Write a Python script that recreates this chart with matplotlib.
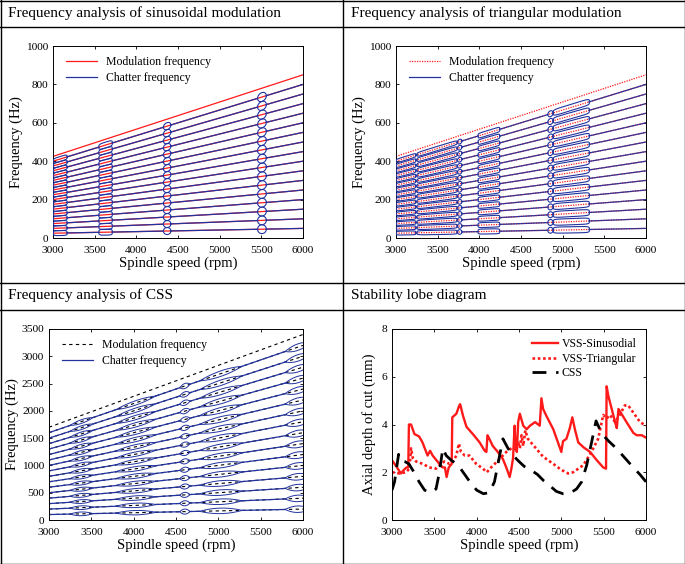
import numpy as np
import matplotlib
matplotlib.use('Agg')
import matplotlib.pyplot as plt
from matplotlib.lines import Line2D

plt.rcParams['font.family'] = ['Liberation Serif', 'DejaVu Serif']

# ---------------- data ----------------
speed_range = [3000, 6000]
harmonics = list(range(1, 17))
mod_order = 17
vss_step_hz = [25, 50]      # harmonic spacing at 3000 / 6000 rpm (VSS panels)
css_step_hz = [100, 200]    # harmonic spacing at 3000 / 6000 rpm (CSS panel)

sin_clusters = [[3005, 3170], [3550, 3712], [4325, 4415], [5455, 5560]]
sin_cluster_exp = [4, 4, 2, 2]
tri_clusters = [[3005, 3238], [3252, 3735], [3738, 3792], [3985, 4245],
                [4822, 4885], [4888, 5320]]
tri_cluster_exp = [6, 6, 2, 6, 2, 6]
css_lenses = [[3250, 3520], [3790, 4260], [4545, 4665], [4780, 5280], [5790, 6090]]

sin_rpm = [3000, 3050, 3105, 3140, 3170, 3192, 3200, 3225, 3265, 3320, 3360, 3420,
           3450, 3480, 3560, 3600, 3625, 3645, 3670, 3705, 3712, 3760, 3795, 3805,
           3840, 3880, 3955, 4035, 4095, 4115, 4128, 4150, 4190, 4250, 4310, 4350,
           4390, 4410, 4430, 4448, 4460, 4475, 4490, 4510, 4550, 4590, 4630, 4690,
           4745, 4765, 4785, 4825, 4905, 4960, 5000, 5020, 5060, 5100, 5130, 5160,
           5200, 5260, 5340, 5420, 5495, 5528, 5535, 5555, 5595, 5635, 5655, 5675,
           5710, 5770, 5850, 5890, 5950, 6000]
sin_depth = [2.5, 2.25, 1.95, 2.1, 2.2, 2.2, 4.0, 4.0, 3.6, 3.5, 3.25, 2.7,
             2.9, 2.7, 2.35, 2.2, 2.2, 1.8, 2.2, 2.35, 4.3, 4.45, 4.8, 4.85,
             4.35, 3.9, 3.6, 3.25, 2.9, 2.85, 3.55, 3.4, 3.1, 2.85, 2.55, 2.2,
             1.8, 2.15, 2.6, 3.95, 3.0, 2.85, 4.1, 4.45, 3.95, 3.8, 3.95, 4.1,
             3.95, 5.1, 4.65, 4.35, 3.8, 3.25, 2.85, 3.3, 3.4, 3.85, 4.3, 3.8,
             3.25, 3.05, 2.85, 2.5, 2.2, 2.15, 5.6, 5.2, 4.65, 4.1, 3.85, 4.65,
             4.45, 4.1, 3.65, 3.55, 3.55, 3.45]

tri_rpm = [3000, 3090, 3165, 3205, 3225, 3245, 3285, 3365, 3440, 3520, 3580, 3620,
           3680, 3720, 3760, 3790, 3815, 3860, 3915, 3995, 4075, 4120, 4170, 4270,
           4350, 4430, 4460, 4490, 4510, 4530, 4550, 4575, 4605, 4665, 4785, 4905,
           5000, 5080, 5140, 5260, 5355, 5435, 5495, 5535, 5575, 5635, 5690, 5750,
           5790, 5850, 5930, 6000]
tri_depth = [2.0, 1.95, 2.0, 2.15, 3.0, 2.6, 2.45, 2.35, 2.2, 2.15, 2.35, 2.45,
             2.35, 2.45, 2.7, 3.2, 2.85, 2.7, 2.7, 2.35, 2.15, 2.0, 2.2, 2.55,
             2.85, 3.05, 2.9, 3.3, 3.0, 3.55, 3.1, 3.75, 3.4, 3.15, 2.65, 2.35,
             2.1, 1.95, 2.0, 2.3, 2.85, 3.4, 4.4, 4.25, 4.4, 4.1, 4.4, 4.8,
             4.8, 4.5, 4.1, 3.95]

css_rpm = [3000, 3030, 3078, 3095, 3150, 3200, 3260, 3320, 3385, 3460, 3520, 3560,
           3600, 3640, 3700, 3760, 3800, 3850, 3920, 4000, 4080, 4150, 4210, 4260,
           4310, 4370, 4430, 4500, 4560, 4640, 4720, 4790, 4860, 4940, 5020, 5100,
           5180, 5240, 5300, 5360, 5410, 5480, 5560, 5650, 5750, 5850, 5930, 6000]
css_depth = [1.25, 1.6, 2.75, 2.5, 2.45, 2.35, 2.0, 1.6, 1.25, 1.15, 1.3, 2.0,
             3.0, 2.7, 2.5, 2.35, 2.2, 1.95, 1.6, 1.25, 1.1, 1.15, 1.6, 2.5,
             3.4, 3.0, 2.7, 2.45, 2.25, 2.1, 1.9, 1.65, 1.45, 1.2, 1.1, 1.12,
             1.3, 1.6, 2.3, 3.3, 4.15, 3.6, 3.3, 3.0, 2.6, 2.2, 1.9, 1.6]

# ---------------- helpers ----------------
BLUE = '#22339e'
RED = '#ff1a1a'
W, H = 685, 564


def step_at(x, step):
    x = np.asarray(x, dtype=float)
    return step[0] + (x - speed_range[0]) * (step[1] - step[0]) / (speed_range[1] - speed_range[0])


def gaps(intervals):
    out, s = [], speed_range[0]
    for a, b in sorted(intervals):
        if a > s:
            out.append([s, a])
        s = max(s, b)
    if s < speed_range[1]:
        out.append([s, speed_range[1]])
    return out


def loop(ax, a, b, k, step, frac, n, color, lw):
    t = np.linspace(0, 2 * np.pi, 120)
    c, w = (a + b) / 2, (b - a) / 2
    cx, sy = np.cos(t), np.sin(t)
    x = c + w * np.sign(cx) * np.abs(cx) ** (2.0 / n)
    h = frac * step_at(c, step)
    y = k * step_at(x, step) + h * np.sign(sy) * np.abs(sy) ** (2.0 / n)
    ax.plot(x, y, color=color, lw=lw, zorder=3)


def lens(ax, a, b, k, step, frac, color, lw):
    x = np.linspace(a, b, 60)
    c, w = (a + b) / 2, (b - a) / 2
    h = frac * step_at(c, step) * (1 - ((x - c) / w) ** 2)
    base = k * step_at(x, step)
    ax.plot(x, base + h, color=color, lw=lw, zorder=3)
    ax.plot(x, base - h, color=color, lw=lw, zorder=3)


def style(ax, ylim, yticks):
    ax.set_xlim(speed_range)
    ax.set_ylim(ylim)
    ax.set_xticks(np.arange(3000, 6001, 500))
    ax.set_yticks(yticks)
    ax.tick_params(direction='in', length=2.5, width=0.6, labelsize=8.2,
                   top=True, right=True)
    ax.tick_params(axis='x', pad=5.5)
    ax.tick_params(axis='y', pad=3.5)
    for s in ax.spines.values():
        s.set_linewidth(0.7)
    ax.set_xlabel('Spindle speed (rpm)', fontsize=10.5, labelpad=1)


fig = plt.figure(figsize=(W / 100, H / 100), dpi=100)


def box(l, r, t, b):
    return [l / W, 1 - b / H, (r - l) / W, (b - t) / H]


xs = np.array(speed_range, dtype=float)
leg_kw = dict(loc='upper left', frameon=False, fontsize=8.5, handlelength=2.6,
              borderaxespad=0.3, labelspacing=0.3, bbox_to_anchor=(0.02, 0.99))

# ---------------- panel 1: sinusoidal ----------------
ax1 = fig.add_axes(box(53, 303, 46, 238))
for k in harmonics:
    ax1.plot(xs, k * step_at(xs, vss_step_hz), color=RED, lw=0.9, zorder=1)
    for g0, g1 in gaps(sin_clusters):
        gx = np.array([g0, g1])
        ax1.plot(gx, k * step_at(gx, vss_step_hz), color=BLUE, lw=0.9, zorder=2)
    for (a, b), n in zip(sin_clusters, sin_cluster_exp):
        loop(ax1, a, b, k, vss_step_hz, 0.5, n, BLUE, 0.8)
ax1.plot(xs, mod_order * step_at(xs, vss_step_hz), color=RED, lw=0.9, zorder=2)
style(ax1, [0, 1000], np.arange(0, 1001, 200))
ax1.set_ylabel('Frequency (Hz)', fontsize=10.5, labelpad=2)
ax1.legend([Line2D([], [], color=RED, lw=0.9), Line2D([], [], color=BLUE, lw=0.9)],
           ['Modulation frequency', 'Chatter frequency'], **leg_kw)

# ---------------- panel 2: triangular ----------------
ax2 = fig.add_axes(box(396, 646, 46, 238))
for k in harmonics:
    ax2.plot(xs, k * step_at(xs, vss_step_hz), color=RED, lw=0.9, ls=(0, (1, 1)), zorder=1)
    for g0, g1 in gaps(tri_clusters):
        gx = np.array([g0, g1])
        ax2.plot(gx, k * step_at(gx, vss_step_hz), color=BLUE, lw=0.9, zorder=2)
    for (a, b), n in zip(tri_clusters, tri_cluster_exp):
        loop(ax2, a, b, k, vss_step_hz, 0.38, n, BLUE, 0.8)
    for g0, g1 in gaps(tri_clusters):
        gx = np.array([g0, g1])
        ax2.plot(gx, k * step_at(gx, vss_step_hz), color=RED, lw=0.6,
                 ls=(0, (1, 3)), alpha=0.6, zorder=2.5)
ax2.plot(xs, mod_order * step_at(xs, vss_step_hz), color=RED, lw=0.9, ls=(0, (1, 1)), zorder=2)
style(ax2, [0, 1000], np.arange(0, 1001, 200))
ax2.set_ylabel('Frequency (Hz)', fontsize=10.5, labelpad=2)
ax2.legend([Line2D([], [], color=RED, lw=0.9, ls=(0, (1, 1))), Line2D([], [], color=BLUE, lw=0.9)],
           ['Modulation frequency', 'Chatter frequency'], **leg_kw)

# ---------------- panel 3: CSS ----------------
ax3 = fig.add_axes(box(49, 303, 329, 520))
for k in harmonics:
    ax3.plot(xs, k * step_at(xs, css_step_hz), color='black', lw=0.8,
             ls=(0, (3, 3)), zorder=1)
    for g0, g1 in gaps(css_lenses):
        gx = np.array([g0, g1])
        ax3.plot(gx, k * step_at(gx, css_step_hz), color=BLUE, lw=0.9, zorder=2)
    for a, b in css_lenses:
        lens(ax3, a, b, k, css_step_hz, 0.3, BLUE, 0.7)
ax3.plot(xs, mod_order * step_at(xs, css_step_hz), color='black', lw=0.8,
         ls=(0, (3, 3)), zorder=2)
style(ax3, [0, 3500], np.arange(0, 3501, 500))
ax3.set_ylabel('Frequency (Hz)', fontsize=10.5, labelpad=2)
ax3.legend([Line2D([], [], color='black', lw=0.8, ls=(0, (3, 3))), Line2D([], [], color=BLUE, lw=0.9)],
           ['Modulation frequency', 'Chatter frequency'], **leg_kw)

# ---------------- panel 4: stability lobes ----------------
ax4 = fig.add_axes(box(392, 646, 329, 520))
l1, = ax4.plot(sin_rpm, sin_depth, color=RED, lw=1.7)
l2, = ax4.plot(tri_rpm, tri_depth, color=RED, lw=1.9, ls=(0, (1, 1)))
l3, = ax4.plot(css_rpm, css_depth, color='black', lw=2.0, ls=(0, (5, 3.5)))
style(ax4, [0, 8], np.arange(0, 9, 2))
ax4.set_ylabel('Axial depth of cut (mm)', fontsize=10.5, labelpad=4)
ax4.legend([l1, l2, l3], ['VSS-Sinusodial', 'VSS-Triangular', 'CSS'],
           loc='upper right', frameon=False, fontsize=8.5, handlelength=2.2,
           labelspacing=0.2, borderaxespad=0.4, handletextpad=0.3)

# ---------------- table frame & headers ----------------
def hline(y, x0=0, x1=W):
    fig.add_artist(Line2D([x0 / W, x1 / W], [1 - y / H, 1 - y / H], color='black', lw=1.0))


def vline(x, y0=0, y1=H):
    fig.add_artist(Line2D([x / W, x / W], [1 - y0 / H, 1 - y1 / H], color='black', lw=1.0))


hline(0.5); hline(563.5); hline(26.5); hline(282.5); hline(309.5)
vline(0.5); vline(684.5); vline(342.5)

fig.text(8 / W, 1 - 13 / H, 'Frequency analysis of sinusoidal modulation', fontsize=11, va='center')
fig.text(351 / W, 1 - 13 / H, 'Frequency analysis of triangular modulation', fontsize=11, va='center')
fig.text(8 / W, 1 - 295 / H, 'Frequency analysis of CSS', fontsize=11, va='center')
fig.text(351 / W, 1 - 295 / H, 'Stability lobe diagram', fontsize=11, va='center')

fig.savefig('out.png', dpi=100)
